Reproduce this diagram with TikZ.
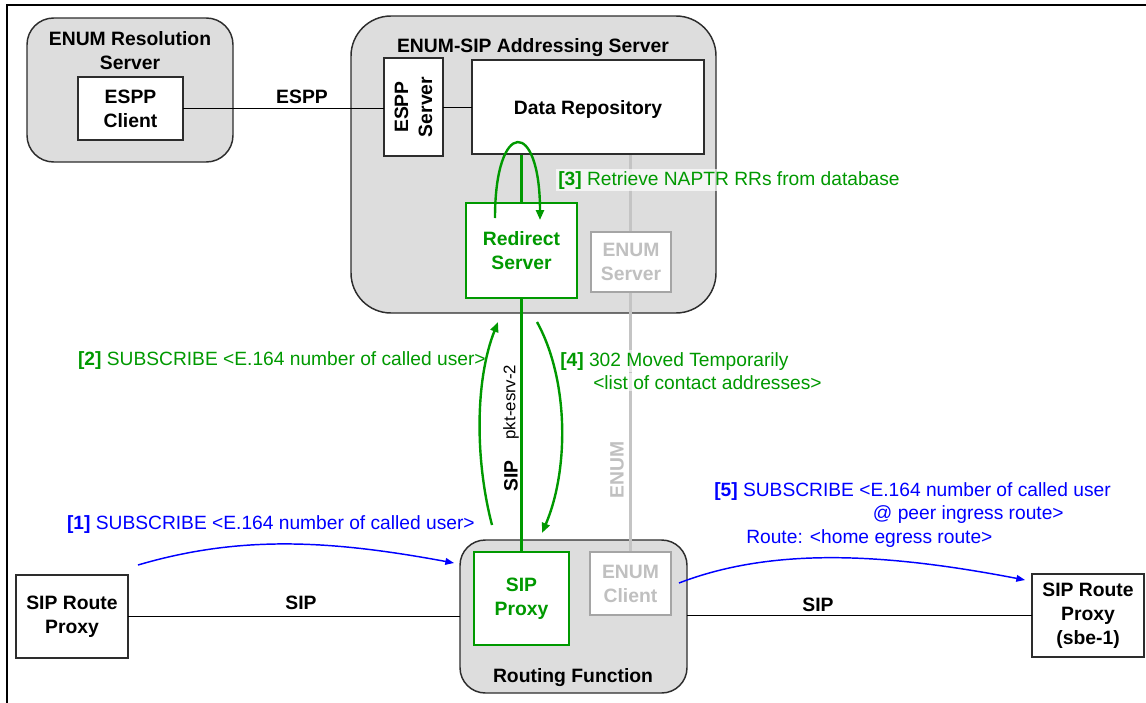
\documentclass[tikz,border=0pt]{standalone}
\usepackage{fontspec}
\setmainfont{Liberation Sans}
\usetikzlibrary{arrows.meta}
\pgfdeclarelayer{back}
\pgfdeclarelayer{lines}
\pgfsetlayers{back,lines,main}
\definecolor{grn}{RGB}{0,153,0}
\definecolor{blu}{RGB}{0,0,255}
\definecolor{gtext}{RGB}{192,192,192}
\definecolor{gbord}{RGB}{165,165,165}
\definecolor{gline}{RGB}{196,196,196}
\definecolor{gfill}{RGB}{221,221,221}
\definecolor{dkg}{RGB}{45,45,45}
\newcommand\fb{\fontsize{14.5}{18}\selectfont\bfseries}
\newcommand\flab{\fontsize{14.4}{17}\selectfont}
\newcommand\fsm{\fontsize{12.6}{15}\selectfont}
\newcommand\mybox[7]{\node[#2, minimum width={(#5-#3)*0.75pt}, minimum height={(#6-#4)*0.75pt}] (#1) at ({(#3+#5)/2},{(#4+#6)/2}) {#7};}
\begin{document}
\begin{tikzpicture}[x=0.75pt,y=-0.75pt,
  frame/.style={draw=black, line width=1pt},
  rbox/.style={draw=dkg, fill=gfill, line width=1.1pt, inner sep=0pt, outer sep=0pt},
  wbox/.style={draw=dkg, fill=white, line width=0.9pt, inner sep=0pt, outer sep=0pt, align=center, font=\fb},
  gbox/.style={draw=grn, fill=white, line width=0.9pt, inner sep=0pt, outer sep=0pt, align=center, font=\fb, text=grn},
  greybox/.style={draw=gbord, fill=white, line width=0.9pt, inner sep=0pt, outer sep=0pt, align=center, font=\fb, text=gtext},
  conn/.style={draw=black, line width=0.75pt},
  glinestyle/.style={draw=gline, line width=2.2pt},
  grline/.style={draw=grn, line width=2.2pt},
  garrow/.style={draw=grn, line width=1.8pt, -{Triangle[length=7.5pt,width=6pt]}},
  barrow/.style={draw=blu, line width=1.1pt, -{Triangle[length=6.5pt,width=5pt]}},
  lbl/.style={font=\flab, inner sep=1.5pt},
  ttl/.style={font=\fb, align=center, inner sep=0pt}
]
\useasboundingbox (0,0) rectangle (1146,703);
\draw[frame] (7,703) -- (7,5) -- (1146,5);

\begin{pgfonlayer}{back}
\mybox{ers}{rbox, rounded corners=20pt}{27}{18}{233}{162}{}
\mybox{eas}{rbox, rounded corners=30pt}{351}{16}{716}{313}{}
\mybox{rf}{rbox, rounded corners=19pt}{460}{540}{687}{693}{}
\end{pgfonlayer}

% titles
\node[ttl] (erst) at (130,51) {ENUM Resolution\\Server};
\node[ttl, text depth=0pt] (east) at (533,45) {ENUM-SIP Addressing Server};
\node[ttl, text depth=0pt] (rft) at (573,675) {Routing Function};

% boxes
\mybox{espc}{wbox}{78}{77}{183}{140}{ESPP\\Client}
\mybox{esps}{wbox}{384}{58}{443}{156}{}
\node[ttl, rotate=90] (espst) at (esps) {ESPP\\Server};
\mybox{dr}{wbox, text depth=0pt}{472}{60}{704}{154}{Data Repository}
\mybox{rs}{gbox}{466}{203}{577}{298}{Redirect\\Server}
\mybox{es}{greybox}{591}{232}{671}{292}{ENUM\\Server}
\mybox{sp}{gbox}{474}{552}{569}{645}{SIP\\Proxy}
\mybox{ec}{greybox}{590}{552}{671}{615}{ENUM\\Client}
\mybox{srp}{wbox}{16}{575}{128}{658}{SIP Route\\Proxy}
\mybox{sbe}{wbox}{1032}{574}{1144}{657}{SIP Route\\Proxy\\(sbe-1)}

% vertical links
\begin{pgfonlayer}{lines}
\draw[glinestyle] (ec.north) -- (ec.north |- dr.south);
\draw[grline] (rs.north) -- (rs.north |- dr.south);
\draw[grline] (rs.south) -- (sp.north);
\end{pgfonlayer}

% black connectors
\draw[conn] (espc.east) -- (espc.east -| esps.west);
\draw[conn] (esps.east) -- (esps.east -| dr.west);
\draw[conn] (srp.east) -- (srp.east -| rf.west);
\draw[conn] (rf.east |- sbe.west) -- (sbe.west);

% connector labels
\node[ttl] (lespp) at (302,97) {ESPP};
\node[ttl] (lsip1) at (301,603) {SIP};
\node[ttl] (lsip2) at (818,605) {SIP};
\node[ttl, rotate=90] (lsip3) at (511,476) {SIP};
\node[font=\fsm, inner sep=0pt, rotate=90] (lpkt) at (511,402) {pkt-esrv-2};
\node[ttl, text=gtext, rotate=90] (lenum) at (617,470) {ENUM};

% message arrows
\coordinate (a1s) at (138,565); \coordinate (a1e) at (454,563);
\draw[barrow] (a1s) .. controls (240,535) and (330,540) .. (a1e);
\coordinate (a5s) at (679,583); \coordinate (a5e) at (1025,580);
\draw[barrow] (a5s) .. controls (770,548) and (880,552) .. (a5e);
\coordinate (a2s) at (492,525); \coordinate (a2e) at (498,322);
\draw[garrow] (a2s) .. controls (475,460) and (475,380) .. (a2e);
\coordinate (a4s) at (537,322); \coordinate (a4e) at (542,533);
\draw[garrow] (a4s) .. controls (569,380) and (569,470) .. (a4e);
\coordinate (a3s) at (495,218); \coordinate (a3e) at (540,220);
\draw[garrow] (a3s) .. controls (495,118) and (540,118) .. (a3e);

% message labels
\node[lbl, text=blu, anchor=base east] (l1) at (477,529) {\textbf{[1]} SUBSCRIBE <E.164 number of called user>};
\node[lbl, text=grn, anchor=base east] (l2) at (488,365) {\textbf{[2]} SUBSCRIBE <E.164 number of called user>};
\node[lbl, text=grn, anchor=base west, fill=white, fill opacity=0.7, text opacity=1] (l3) at (556,185) {\textbf{[3]} Retrieve NAPTR RRs from database};
\node[lbl, text=grn, anchor=base west, fill=white, fill opacity=0.6, text opacity=1] (l4a) at (558,366) {\textbf{[4]} 302 Moved Temporarily};
\node[lbl, text=grn, anchor=base west, fill=white, fill opacity=0.6, text opacity=1] (l4b) at (591,389) {<list of contact addresses>};
\node[lbl, text=blu, anchor=base west] (l5a) at (712,496) {\textbf{[5]} SUBSCRIBE <E.164 number of called user};
\node[lbl, text=blu, anchor=base east] (l5b) at (1066,519) {@ peer ingress route>};
\node[lbl, text=blu, anchor=base west] (l5c) at (744,543) {Route: <home egress route>};
\end{tikzpicture}
\end{document}
